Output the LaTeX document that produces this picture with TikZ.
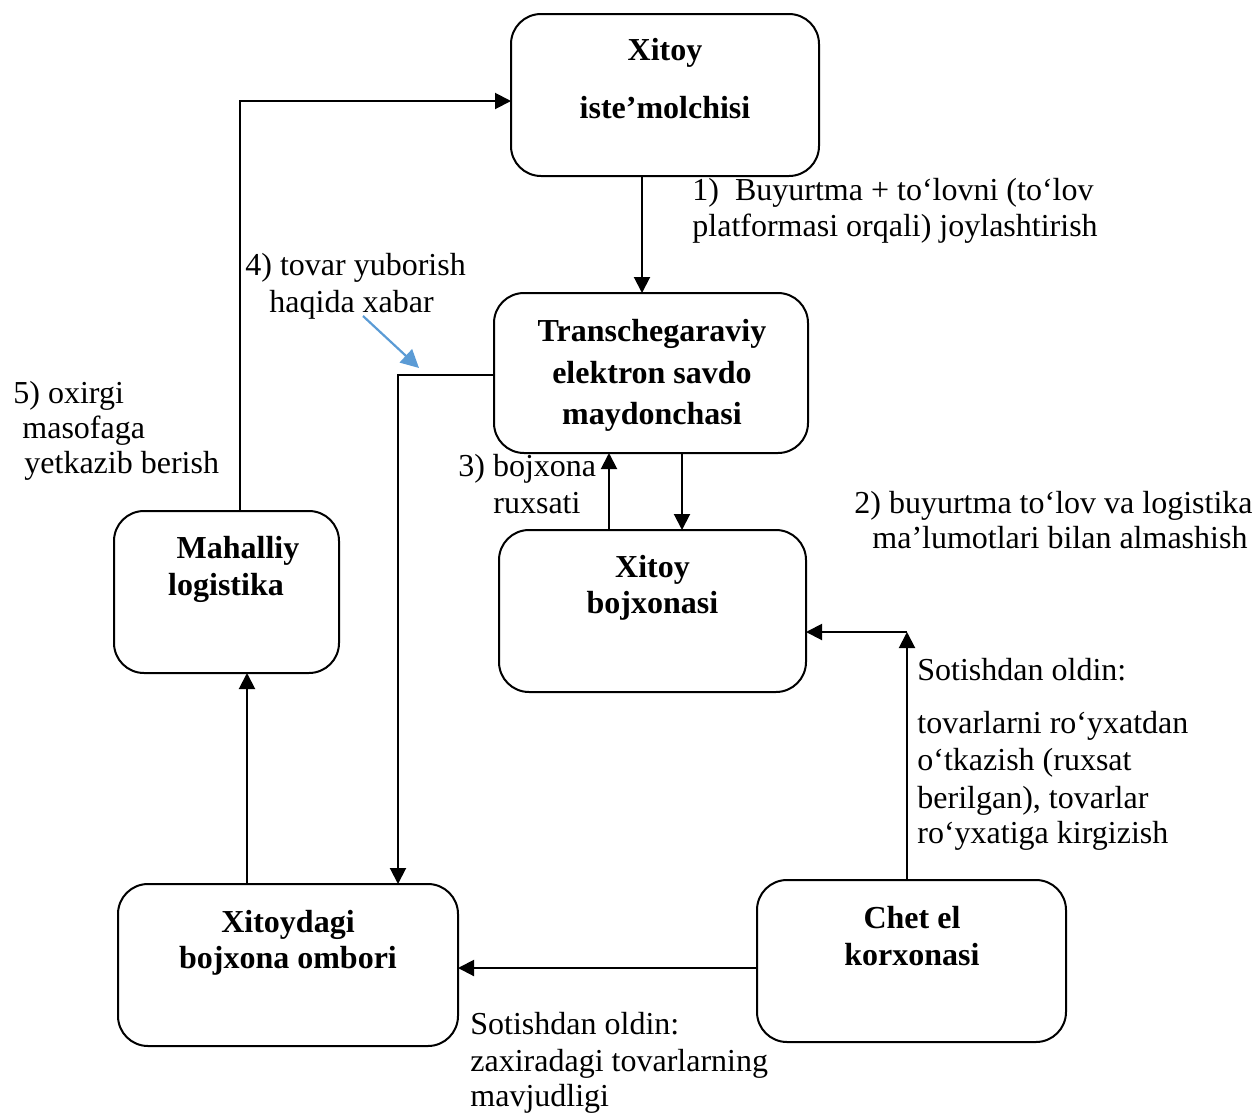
\documentclass[tikz,border=0pt]{standalone}
\usepackage{fontspec}
\setmainfont{Liberation Serif}
\usetikzlibrary{arrows.meta}
\definecolor{noteblue}{HTML}{5B9BD5}
\begin{document}
\begin{tikzpicture}[x=0.5pt,y=-0.5pt,
  box/.style={draw,line width=1pt,rounded corners=15pt,inner sep=0pt,outer sep=0pt},
  arr/.style={line width=1pt,-{Triangle[length=8pt,width=8pt]}},
  lbl/.style={font=\fontsize{16}{18}\selectfont,inner sep=0pt,anchor=base west},
  ttl/.style={font=\fontsize{16}{18}\selectfont\bfseries,inner sep=0pt,anchor=base},
  note/.style={draw=noteblue,line width=1.1pt,-{Triangle[length=9pt,width=9pt]}}]
\useasboundingbox (0,0) rectangle (1255,1115);

% boxes
\node[box,minimum width=154pt,minimum height=81pt] (A) at (665,95) {};
\node[box,minimum width=157pt,minimum height=80pt] (B) at (651,373) {};
\node[box,minimum width=153.5pt,minimum height=81pt] (C) at (652.5,611) {};
\node[box,minimum width=112.5pt,minimum height=81pt] (D) at (226.5,592) {};
\node[box,minimum width=170pt,minimum height=81pt] (E) at (288,965) {};
\node[box,minimum width=154.5pt,minimum height=81pt] (F) at (911.5,961) {};

% box titles
\node[ttl] (A1) at (665,60) {Xitoy};
\node[ttl] (A2) at (665,118) {iste’molchisi};
\node[ttl] (B1) at (652,341) {Transchegaraviy};
\node[ttl] (B2) at (652,383) {elektron savdo};
\node[ttl] (B3) at (652,424) {maydonchasi};
\node[ttl] (C1) at (652.5,577) {Xitoy};
\node[ttl] (C2) at (652.5,613) {bojxonasi};
\node[ttl] (D1) at (238,558) {Mahalliy};
\node[ttl] (D2) at (226,595) {logistika};
\node[ttl] (E1) at (288,932) {Xitoydagi};
\node[ttl] (E2) at (288,968) {bojxona ombori};
\node[ttl] (F1) at (912,928) {Chet el};
\node[ttl] (F2) at (912,965) {korxonasi};

% connectors
\draw[arr] ([xshift=-11.5pt]A.south) -- ([xshift=-11.5pt]A.south |- B.north);
\draw[arr] ([xshift=14.75pt]C.north |- B.south) -- ([xshift=14.75pt]C.north);
\draw[arr] ([xshift=-21.75pt]C.north) -- ([xshift=-21.75pt]C.north |- B.south);
\draw[arr] ([yshift=-1pt]B.west) -| ([xshift=55pt]E.north);
\draw[arr] ([xshift=6.75pt]D.north) |- ([yshift=-3pt]A.west);
\draw[arr] ([xshift=-20.5pt]E.north) -- ([xshift=-20.5pt]E.north |- D.south);
\draw[arr] ([yshift=-3.5pt]F.west) -- ([yshift=-3.5pt]F.west -| E.east);
\coordinate (fN) at ([xshift=-2.25pt]F.north);
\coordinate (cE) at ([yshift=-10.5pt]C.east);
\coordinate (bend) at (fN |- cE);
\draw[arr] (fN) -- (bend);
\draw[arr] (bend) -- (cE);

% pointer to the notice line
\coordinate (nS) at (363,316);
\coordinate (nE) at (419,368);
\draw[note] (nS) -- (nE);

% labels
\node[lbl] (L1a) at (692,200) {1)\hspace{8pt}Buyurtma + to‘lovni (to‘lov};
\node[lbl] (L1b) at (692,236) {platformasi orqali) joylashtirish};
\node[lbl] (L4a) at (245,275) {4) tovar yuborish};
\node[lbl] (L4b) at (269,312) {haqida xabar};
\node[lbl] (L5a) at (13,403) {5) oxirgi};
\node[lbl] (L5b) at (22,438) {masofaga};
\node[lbl] (L5c) at (24,473) {yetkazib berish};
\node[lbl] (L3a) at (458,476) {3) bojxona};
\node[lbl] (L3b) at (493,513) {ruxsati};
\node[lbl] (L2a) at (854,513) {2) buyurtma to‘lov va logistika};
\node[lbl] (L2b) at (872,548) {ma’lumotlari bilan almashish};
\node[lbl] (R1) at (917,680) {Sotishdan oldin:};
\node[lbl] (R2) at (917,733) {tovarlarni ro‘yxatdan};
\node[lbl] (R3) at (917,770) {o‘tkazish (ruxsat};
\node[lbl] (R4) at (917,808) {berilgan), tovarlar};
\node[lbl] (R5) at (917,843) {ro‘yxatiga kirgizish};
\node[lbl] (S1) at (470,1034) {Sotishdan oldin:};
\node[lbl] (S2) at (470,1071) {zaxiradagi tovarlarning};
\node[lbl] (S3) at (470,1106) {mavjudligi};
\end{tikzpicture}
\end{document}
